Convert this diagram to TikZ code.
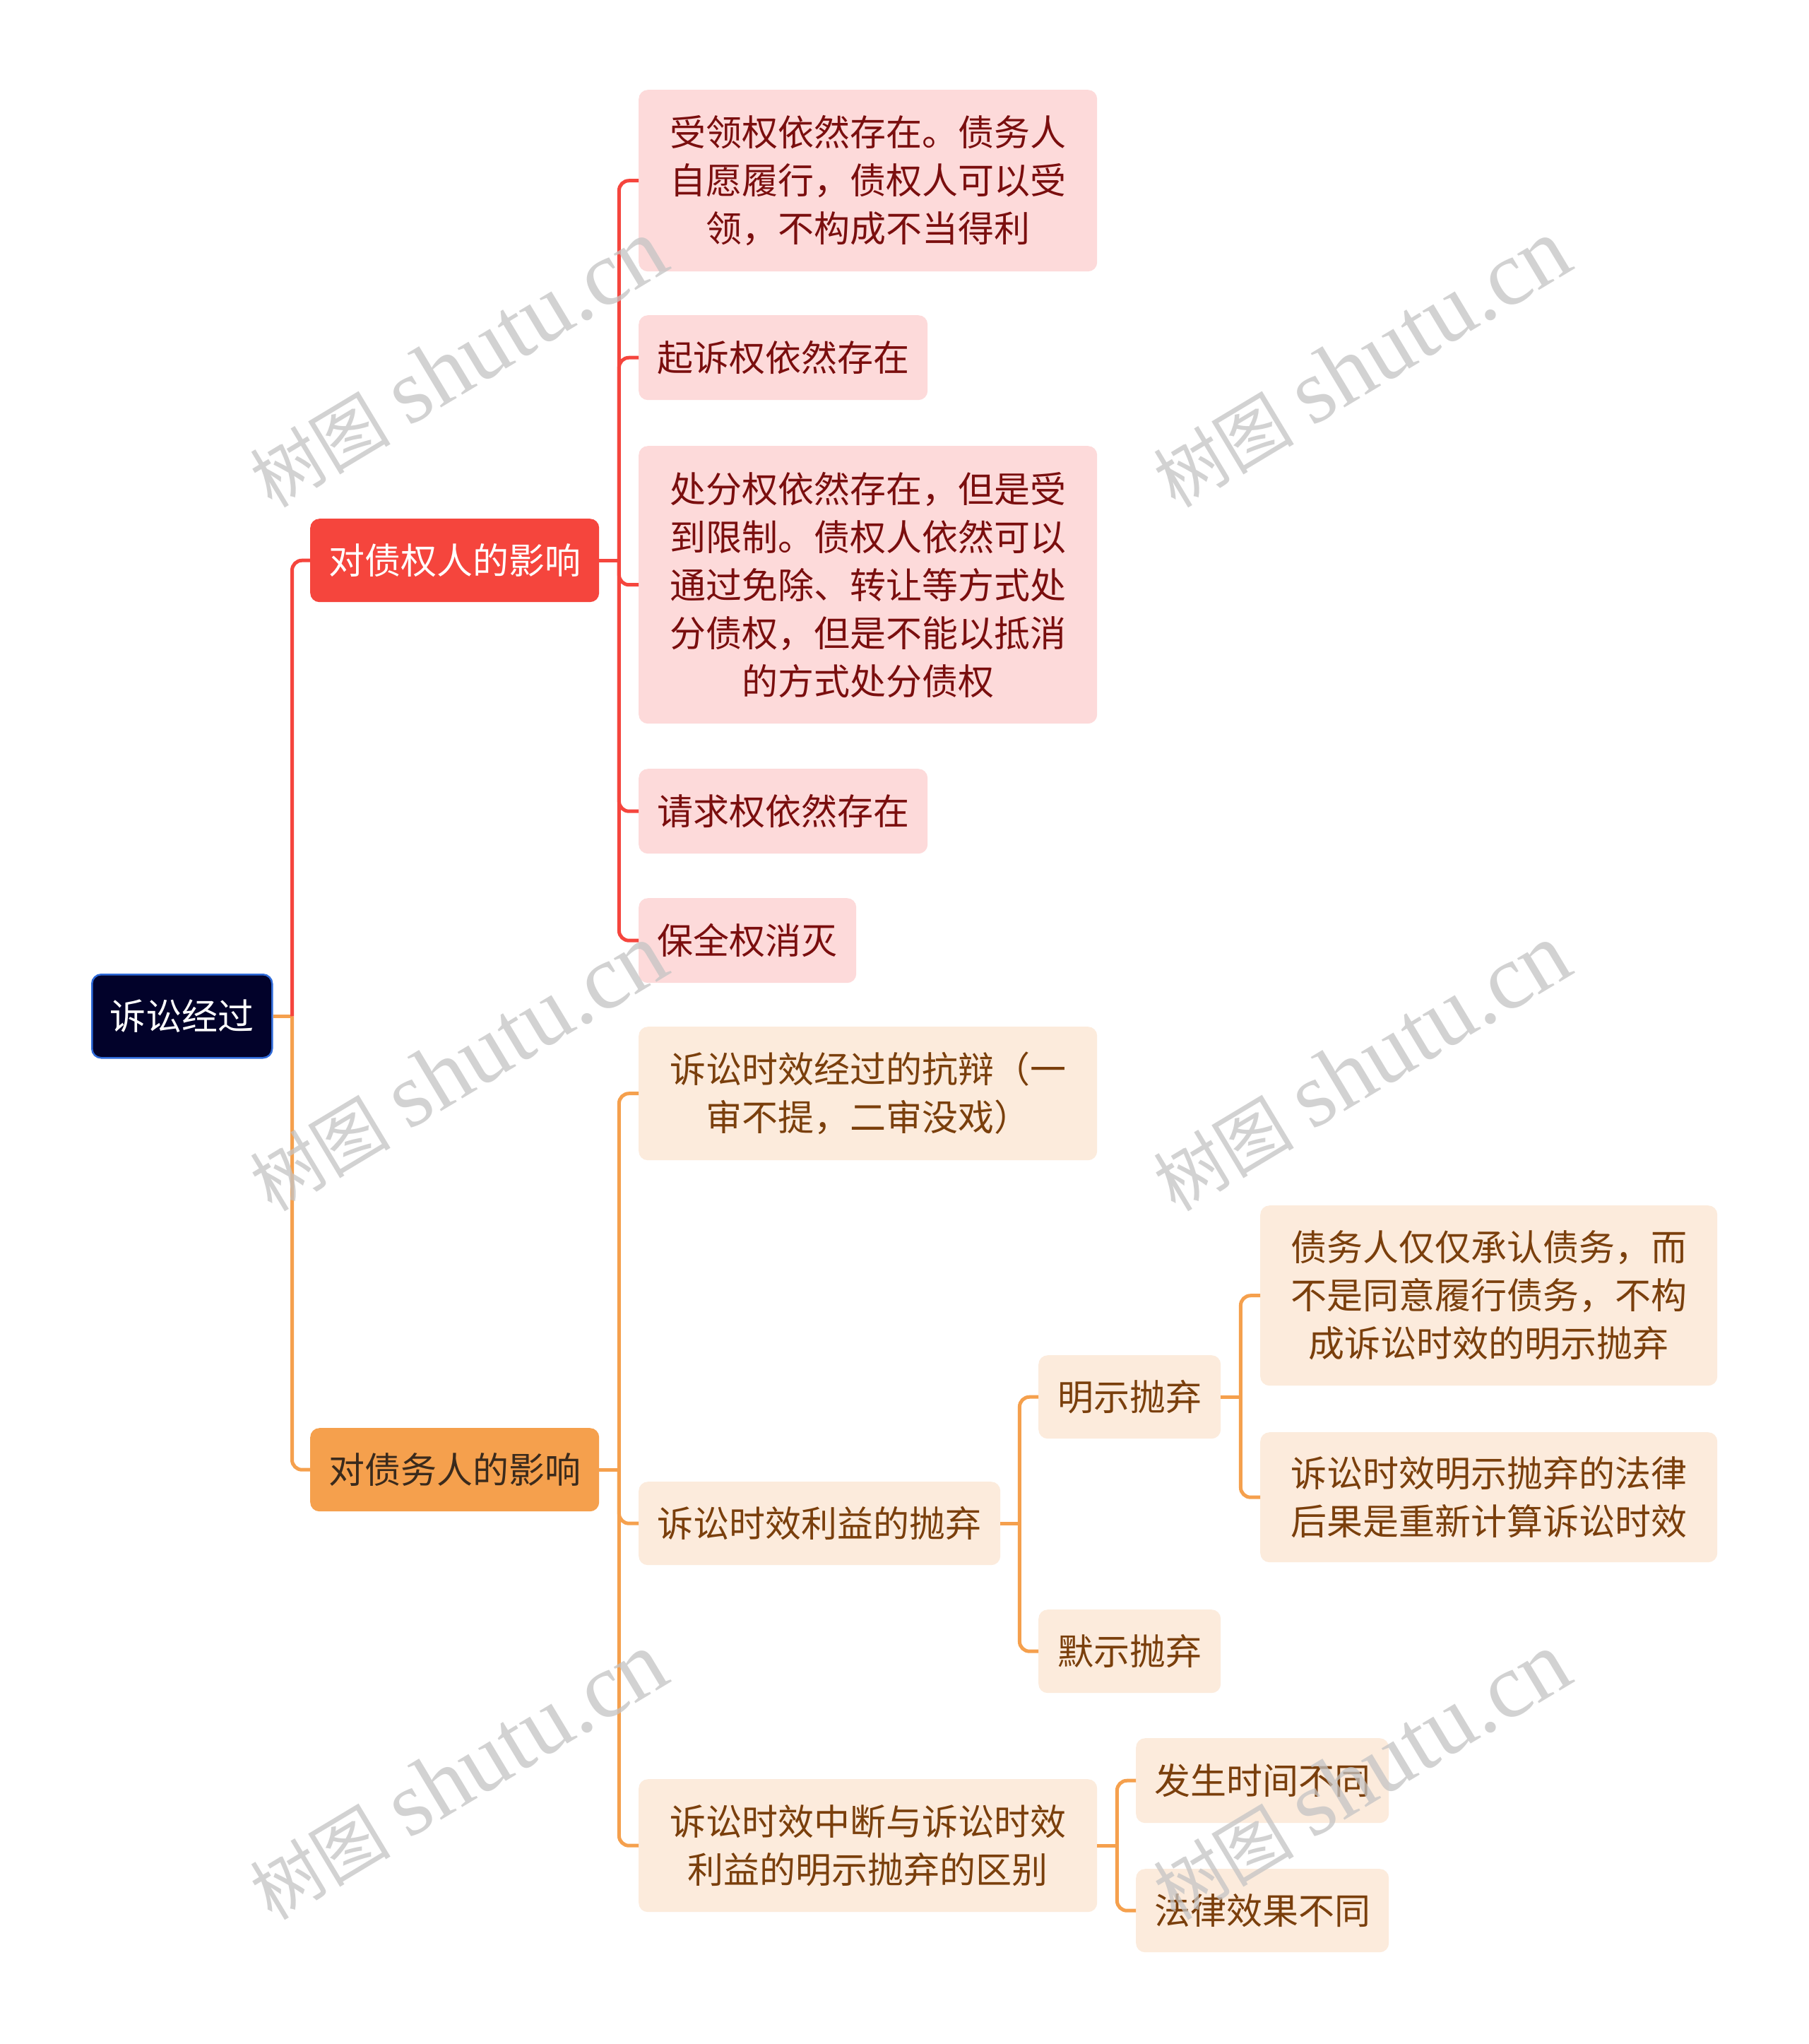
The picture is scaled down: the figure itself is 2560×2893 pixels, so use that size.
\documentclass[tikz,border=0pt]{standalone}
\usepackage{fontspec}
\setmainfont{Noto Sans CJK SC}
\newfontfamily\wmlatin{Liberation Serif}
\newfontfamily\wmcjk{Noto Sans CJK SC}
\definecolor{rootfill}{HTML}{02022A}
\definecolor{rootborder}{HTML}{2F6AD8}
\definecolor{redmain}{HTML}{F5453D}
\definecolor{orgmain}{HTML}{F5A04D}
\definecolor{orgheadtext}{HTML}{3A2A1C}
\definecolor{redleaffill}{HTML}{FDDADA}
\definecolor{redleaftext}{HTML}{7A0E0E}
\definecolor{orgleaffill}{HTML}{FCEBDC}
\definecolor{orgleaftext}{HTML}{7A3F0C}
\definecolor{wmgray}{HTML}{C4C4C4}
\tikzset{
  base/.style={rounded corners=13pt, inner sep=0pt, align=center, anchor=north west,
    font=\fontsize{51pt}{68pt}\selectfont},
  sz/.style 2 args={minimum width=#1pt, minimum height=#2pt},
  rootbox/.style={base, fill=rootfill, draw=rootborder, line width=2.5pt, text=white},
  redhead/.style={base, fill=redmain, text=white},
  orghead/.style={base, fill=orgmain, text=orgheadtext},
  redleaf/.style={base, fill=redleaffill, text=redleaftext},
  orgleaf/.style={base, fill=orgleaffill, text=orgleaftext},
  redline/.style={draw=redmain, line width=5pt},
  orgline/.style={draw=orgmain, line width=5pt},
  elbow/.style={rounded corners=14pt},
  wm/.style={text=wmgray, opacity=0.75, inner sep=0pt, rotate=31}
}
\newcommand{\wmtext}{{\wmcjk\fontsize{100pt}{100pt}\selectfont 树图}\hspace{26pt}{\wmlatin\fontsize{130pt}{130pt}\selectfont shutu.cn}}
\begin{document}
\begin{tikzpicture}[x=1pt, y=-1pt]
\useasboundingbox (0,0) rectangle (2560,2893);
\fill[white] (0,0) rectangle (2560,2893);

% nodes
\node[rootbox, sz={255}{118}] (root) at (129,1378) {诉讼经过};
\node[redhead, sz={409}{118}] (A) at (439,734) {对债权人的影响};
\node[orghead, sz={409}{118}] (B) at (439,2021) {对债务人的影响};

\node[redleaf, sz={649}{257}] (a1) at (904,127) {受领权依然存在。债务人\\自愿履行，债权人可以受\\领，不构成不当得利};
\node[redleaf, sz={409}{120}] (a2) at (904,446) {起诉权依然存在};
\node[redleaf, sz={649}{393}] (a3) at (904,631) {处分权依然存在，但是受\\到限制。债权人依然可以\\通过免除、转让等方式处\\分债权，但是不能以抵消\\的方式处分债权};
\node[redleaf, sz={409}{120}] (a4) at (904,1088) {请求权依然存在};
\node[redleaf, sz={308}{120}] (a5) at (904,1271) {保全权消灭};

\node[orgleaf, sz={649}{189}] (b1) at (904,1453) {诉讼时效经过的抗辩（一\\审不提，二审没戏）};
\node[orgleaf, sz={512}{118}] (b2) at (904,2097) {诉讼时效利益的抛弃};
\node[orgleaf, sz={649}{188}] (b3) at (904,2518) {诉讼时效中断与诉讼时效\\利益的明示抛弃的区别};

\node[orgleaf, sz={258}{118}] (c1) at (1470,1918) {明示抛弃};
\node[orgleaf, sz={258}{118}] (c2) at (1470,2278) {默示抛弃};

\node[orgleaf, sz={647}{255}] (d1) at (1784,1706) {债务人仅仅承认债务，而\\不是同意履行债务，不构\\成诉讼时效的明示抛弃};
\node[orgleaf, sz={647}{184}] (d2) at (1784,2027) {诉讼时效明示抛弃的法律\\后果是重新计算诉讼时效};

\node[orgleaf, sz={358}{120}] (e1) at (1608,2460) {发生时间不同};
\node[orgleaf, sz={358}{118}] (e2) at (1608,2645) {法律效果不同};

% spine points
\coordinate (rootS) at ([xshift=27pt]root.east);
\coordinate (AS) at ([xshift=28pt]A.east);
\coordinate (BS) at ([xshift=28pt]B.east);
\coordinate (b2S) at ([xshift=27pt]b2.east);
\coordinate (c1S) at ([xshift=28pt]c1.east);
\coordinate (b3S) at ([xshift=28pt]b3.east);

% root connectors
\draw[orgline] (root.east) -- (rootS);
\draw[orgline, elbow] (rootS) |- (B.west);
\draw[redline, elbow] (rootS) |- (A.west);

% creditor branch
\draw[redline] (A.east) -- (AS);
\foreach \c in {a1,a2,a3,a4,a5} {\draw[redline, elbow] (AS) |- (\c.west);}

% debtor branch
\draw[orgline] (B.east) -- (BS);
\foreach \c in {b1,b2,b3} {\draw[orgline, elbow] (BS) |- (\c.west);}

\draw[orgline] (b2.east) -- (b2S);
\foreach \c in {c1,c2} {\draw[orgline, elbow] (b2S) |- (\c.west);}

\draw[orgline] (c1.east) -- (c1S);
\foreach \c in {d1,d2} {\draw[orgline, elbow] (c1S) |- (\c.west);}

\draw[orgline] (b3.east) -- (b3S);
\foreach \c in {e1,e2} {\draw[orgline, elbow] (b3S) |- (\c.west);}

% watermarks
\node[wm] (w1) at (648,515) {\wmtext};
\node[wm] (w2) at (1927,515) {\wmtext};
\node[wm] (w3) at (648,1511) {\wmtext};
\node[wm] (w4) at (1927,1511) {\wmtext};
\node[wm] (w5) at (648,2514) {\wmtext};
\node[wm] (w6) at (1927,2514) {\wmtext};
\end{tikzpicture}
\end{document}
